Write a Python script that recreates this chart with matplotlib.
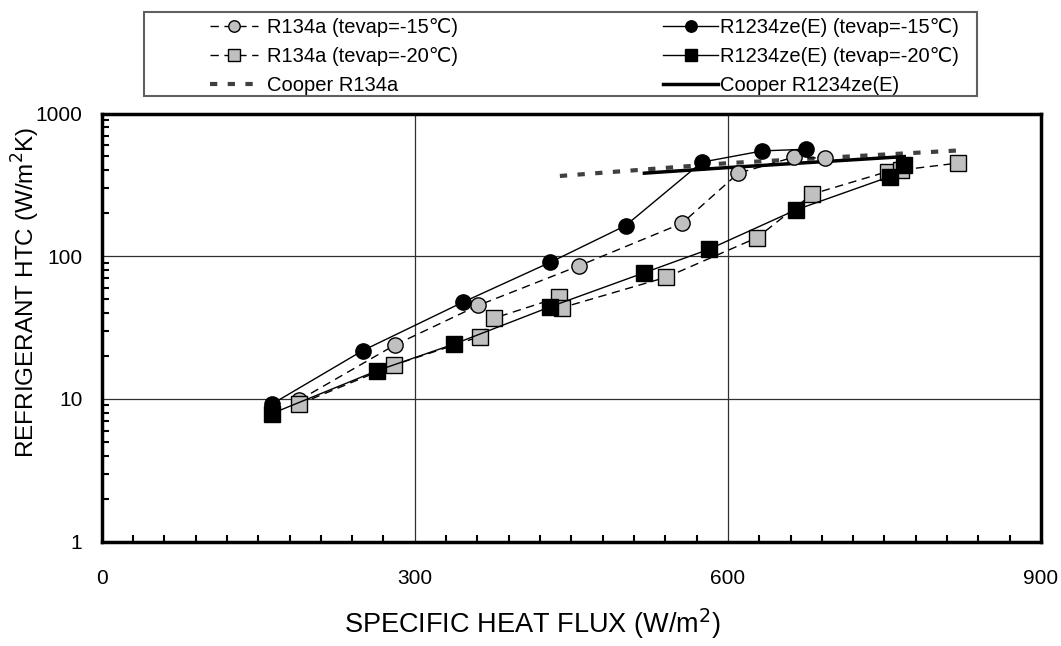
import matplotlib
matplotlib.use("Agg")
import matplotlib.pyplot as plt
from matplotlib.ticker import FixedLocator, NullFormatter, FixedFormatter
from matplotlib.patches import Rectangle

plt.rcParams['font.family'] = ['Liberation Sans', 'DejaVu Sans']

# R1234ze(E) tevap=-15
ze15_q = [163, 250, 346, 430, 502, 575, 633, 675]
ze15_h = [9.2, 21.8, 47.6, 90.8, 164, 456, 547, 562]
# R134a tevap=-15
a15_q = [189, 281, 361, 457, 556, 610, 663, 693]
a15_h = [9.8, 23.9, 45.3, 85.5, 170, 382, 494, 486]
# R1234ze(E) tevap=-20
ze20_q = [163, 264, 338, 430, 520, 582, 665, 755, 769]
ze20_h = [7.9, 15.8, 24.3, 44.3, 76.7, 112, 211, 361, 436]
# R134a tevap=-20
a20_q = [189, 280, 362, 376, 438, 441, 541, 628, 681, 753, 766, 820]
a20_h = [9.2, 17.3, 27.3, 36.8, 51.6, 43.6, 71.3, 135, 273, 392, 402, 449]
# Cooper correlations
coop_a_q = [439, 600, 819]
coop_a_h = [365, 449, 550]
coop_ze_q = [520, 600, 769]
coop_ze_h = [382, 418, 499]

labels_left = ["R134a (tevap=-15\u2103)", "R134a (tevap=-20\u2103)", "Cooper R134a"]
labels_right = ["R1234ze(E) (tevap=-15\u2103)", "R1234ze(E) (tevap=-20\u2103)", "Cooper R1234ze(E)"]

W, H = 1061, 646
fig = plt.figure(figsize=(W/100, H/100), dpi=100)
ax = fig.add_axes([101.7/W, 1-541.7/H, (1041-101.7)/W, (541.7-113.5)/H])

gray = '#c0c0c0'
ms = 11
l1, = ax.plot(a15_q, a15_h, ls=(0, (6, 4)), color='black', lw=1, marker='o', ms=ms,
              mfc=gray, mec='black', mew=1, zorder=4)
l2, = ax.plot(a20_q, a20_h, ls=(0, (6, 4)), color='black', lw=1, marker='s', ms=ms,
              mfc=gray, mec='black', mew=1, zorder=4)
l4, = ax.plot(ze15_q, ze15_h, ls='-', color='black', lw=1, marker='o', ms=ms,
              mfc='black', mec='black', zorder=5)
l5, = ax.plot(ze20_q, ze20_h, ls='-', color='black', lw=1, marker='s', ms=ms,
              mfc='black', mec='black', zorder=5)
l3, = ax.plot(coop_a_q, coop_a_h, ls=(0, (1.75, 2.5)), color='#404040', lw=3, zorder=3)
l6, = ax.plot(coop_ze_q, coop_ze_h, ls='-', color='black', lw=2.5, zorder=3)

ax.set_yscale('log')
ax.set_xlim(0, 900)
ax.set_ylim(1, 1000)

ax.xaxis.set_major_locator(FixedLocator([0, 300, 600, 900]))
ax.xaxis.set_major_formatter(FixedFormatter(['0', '300', '600', '900']))
ax.xaxis.set_minor_locator(FixedLocator([i*30 for i in range(31)]))
ax.yaxis.set_major_locator(FixedLocator([1, 10, 100, 1000]))
ax.yaxis.set_major_formatter(FixedFormatter(['1', '10', '100', '1000']))
ax.yaxis.set_minor_locator(FixedLocator([m*10**e for e in range(0, 3) for m in range(2, 10)]))
ax.yaxis.set_minor_formatter(NullFormatter())

ax.tick_params(axis='both', which='major', direction='in', length=0, labelsize=15)
ax.tick_params(axis='x', which='major', pad=20)
ax.tick_params(axis='y', which='major', pad=14)
ax.tick_params(axis='both', which='minor', direction='in', length=5, width=1.5)
ax.tick_params(top=False, right=False, which='both')

ax.grid(True, which='major', color='#303030', lw=0.9)
for s in ax.spines.values():
    s.set_linewidth(2.5)

fig.text(532/W, 1-624/H, "SPECIFIC HEAT FLUX (W/m$^2$)", ha='center', va='center', fontsize=19.5)
fig.text(26/W, 1-292/H, "REFRIGERANT HTC (W/m$^2$K)", ha='center', va='center',
         rotation=90, fontsize=17.5)

# legend frame
fig.patches.append(Rectangle((144/W, 1-96/H), (977-144)/W, (96-12)/H, transform=fig.transFigure,
                             fill=False, edgecolor='#606060', lw=1.5, zorder=10))

common = dict(loc='center left', frameon=False, fontsize=14.5, borderpad=0,
              labelspacing=0.5, markerscale=0.75)
legL = fig.legend([l1, l2, l3], labels_left, bbox_to_anchor=(200/W, 1-56.5/H),
                  handlelength=2.4, handletextpad=0.45, **common)
legR = fig.legend([l4, l5, l6], labels_right, bbox_to_anchor=(653/W, 1-56.5/H),
                  handlelength=2.75, handletextpad=0.1, **common)

fig.savefig("out.png", dpi=100)
